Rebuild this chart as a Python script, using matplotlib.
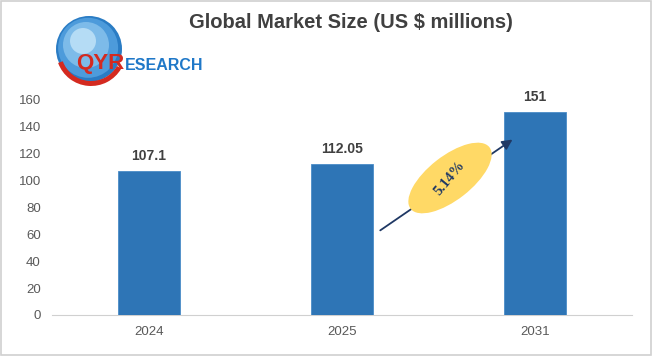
import matplotlib
matplotlib.use("Agg")
import matplotlib.pyplot as plt
from matplotlib.patches import Ellipse, Circle, Rectangle, Wedge
from matplotlib.transforms import IdentityTransform
import numpy as np

years = ["2024", "2025", "2031"]
values = [107.1, 112.05, 151]
value_labels = ["107.1", "112.05", "151"]
cagr_label = "5.14%"
title = "Global Market Size (US $ millions)"

plt.rcParams['font.family'] = ['Liberation Sans', 'DejaVu Sans']

fig = plt.figure(figsize=(6.52, 3.56), dpi=100)
fig.patch.set_facecolor("white")
fig.patches.append(Rectangle((0.001, 0.002), 0.997, 0.995, transform=fig.transFigure,
                             fill=False, edgecolor="#d0d0d0", linewidth=1.2))

ax = fig.add_axes([0.0798, 0.1152, 0.889, 0.604])
x = np.arange(len(years))
ax.bar(x, values, width=0.32, color="#2E75B6", edgecolor="#4a8cc8", linewidth=0.6, zorder=3)
for xi, v, lab in zip(x, values, value_labels):
    ax.text(xi, v + 6, lab, ha="center", va="bottom", fontsize=10, fontweight="bold", color="#404040")

ax.set_xlim(-0.5, 2.5)
ax.set_ylim(0, 160)
ax.set_yticks(range(0, 161, 20))
ax.set_xticks(x)
ax.set_xticklabels(years)
ax.tick_params(axis="both", length=0, labelsize=9.5, colors="#595959")
ax.tick_params(axis="y", pad=8)
ax.tick_params(axis="x", pad=8)
for s in ["top", "right", "left"]:
    ax.spines[s].set_visible(False)
ax.spines["bottom"].set_color("#d0d0d0")

# CAGR arrow and ellipse
ax.annotate("", xy=(1.895, 131.7), xytext=(1.187, 61.8),
            arrowprops=dict(arrowstyle="-|>,head_length=0.6,head_width=0.3", color="#1F3864", lw=1.3),
            zorder=4)
ell = Ellipse((450, 356 - 178), 100, 44, angle=38, facecolor="#FFD966", edgecolor="none", zorder=5)
ell.set_transform(IdentityTransform())
fig.patches.append(ell)
fig.text(450 / 652, (356 - 178) / 356, cagr_label, ha="center", va="center", rotation=50,
         fontsize=10.5, fontweight="bold", color="#1F3864", family=["Liberation Serif", "DejaVu Serif"],
         zorder=6)

# Title
fig.text(351 / 652, 1 - 23 / 356, title, ha="center", va="center", fontsize=14.5,
         fontweight="bold", color="#404040")

# Logo: globe
for r, c in [(33, "#2a7cc4"), (30, "#4d9bdb"), (23, "#7dbbe9"), (13, "#b5dcf5")]:
    circ = Circle((89 - (33 - r) * 0.3, 356 - 49 + (33 - r) * 0.4), r, facecolor=c, edgecolor="none")
    circ.set_transform(IdentityTransform())
    fig.patches.append(circ)
sw = Wedge((91, 356 - 51), 35, 200, 330, width=5, facecolor="#d42a20", edgecolor="none")
sw.set_transform(IdentityTransform())
fig.patches.append(sw)
fig.text(76 / 652, 1 - 63 / 356, "QYR", ha="left", va="center", fontsize=16, fontweight="bold",
         color="#d42a20", zorder=7)
fig.text(125 / 652, 1 - 66 / 356, "ESEARCH", ha="left", va="center", fontsize=11.5, fontweight="bold",
         color="#1f78c8", zorder=7)

fig.savefig("out.png", dpi=100, facecolor="white")
